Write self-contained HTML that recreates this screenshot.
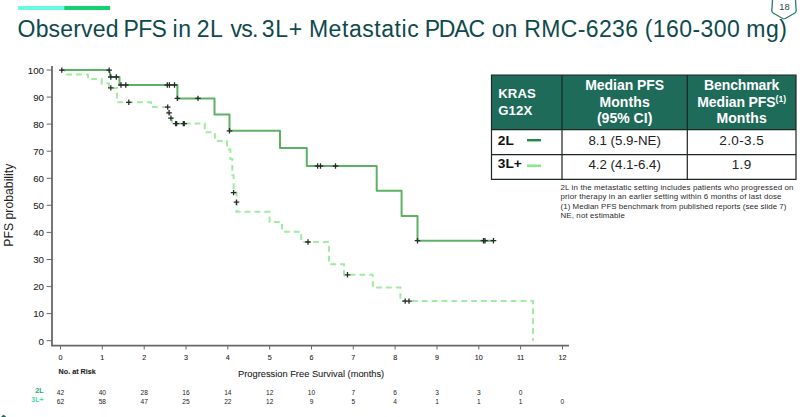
<!DOCTYPE html>
<html><head><meta charset="utf-8">
<style>
html,body{margin:0;padding:0;background:#fff;}
body{width:800px;height:417px;position:relative;overflow:hidden;font-family:"Liberation Sans",sans-serif;}
.a{position:absolute;white-space:nowrap;}
</style></head><body>
<svg width="800" height="417" viewBox="0 0 800 417" style="position:absolute;left:0;top:0">
<g stroke="#686868" fill="none">
<path d="M52 66 V345.6 H569" stroke-width="1.8"/>
<path d="M46.6 340.7 H52 M46.6 313.6 H52 M46.6 286.6 H52 M46.6 259.5 H52 M46.6 232.4 H52 M46.6 205.3 H52 M46.6 178.3 H52 M46.6 151.2 H52 M46.6 124.1 H52 M46.6 97.1 H52 M46.6 70.0 H52 M60.5 345.6 V349.5 M102.3 345.6 V349.5 M144.2 345.6 V349.5 M186.0 345.6 V349.5 M227.8 345.6 V349.5 M269.6 345.6 V349.5 M311.5 345.6 V349.5 M353.3 345.6 V349.5 M395.1 345.6 V349.5 M437.0 345.6 V349.5 M478.8 345.6 V349.5 M520.6 345.6 V349.5 M562.5 345.6 V349.5" stroke-width="1"/>
</g>
<path d="M65 70.1 V74.4 H88.1 V79.1 H101.7 V83.4 H109 V87.9 H116.9 V102.3 H151 V107.1 H167.7 V112.8 H169.5 V118.1 H172 V123.6 H204.8 V132.3 H214.9 V140.9 H227 V149.5 H230.4 V159 H232.3 V175.3 H233.6 V192.6 H236.5 V211.8 H269.6 V222 H282 V231.7 H301.2 V242 H329 V264.3 H344 V274.7 H372.9 V287.6 H400.4 V301.1 H533 V340.7" fill="none" stroke="#a0eca0" stroke-width="2" stroke-dasharray="5.8 4.07" stroke-dashoffset="4.37"/>
<path d="M61.5 70.1 H109.2 L110.6 77 H119.5 V85 H177.4 V98.4 H214.5 V114.5 H229.5 V130.8 H280 V148 H306.8 V166 H376.7 V190.8 H401.6 V216 H417.5 V240.7 H493.5" fill="none" stroke="#5cb264" stroke-width="2" stroke-linejoin="round"/>
<path stroke="#2a2a2a" stroke-width="1.3" fill="none" d="M59.0 70.1 H64.6 M61.8 67.4 V72.8 M106.4 70.1 H112.0 M109.2 67.4 V72.8 M108.0 77.0 H113.5 M110.8 74.3 V79.7 M113.5 77.0 H119.1 M116.3 74.3 V79.7 M118.2 85.0 H123.8 M121.0 82.3 V87.7 M123.0 85.0 H128.6 M125.8 82.3 V87.7 M164.5 85.0 H170.1 M167.3 82.3 V87.7 M166.6 85.0 H172.2 M169.4 82.3 V87.7 M171.7 85.0 H177.3 M174.5 82.3 V87.7 M174.6 98.4 H180.2 M177.4 95.7 V101.1 M195.2 98.4 H200.8 M198.0 95.7 V101.1 M226.7 130.8 H232.3 M229.5 128.1 V133.5 M314.8 166.0 H320.4 M317.6 163.3 V168.7 M317.7 166.0 H323.3 M320.5 163.3 V168.7 M332.7 166.0 H338.3 M335.5 163.3 V168.7 M414.7 240.7 H420.3 M417.5 238.0 V243.4 M480.7 240.7 H486.3 M483.5 238.0 V243.4 M482.2 240.7 H487.8 M485.0 238.0 V243.4 M490.7 240.7 H496.3 M493.5 238.0 V243.4 M108.0 87.9 H113.6 M110.8 85.2 V90.6 M126.0 102.3 H131.6 M128.8 99.6 V105.0 M164.9 107.1 H170.5 M167.7 104.4 V109.8 M166.3 112.8 H171.9 M169.1 110.1 V115.5 M168.1 118.1 H173.7 M170.9 115.4 V120.8 M172.8 123.6 H178.4 M175.6 120.9 V126.3 M173.8 123.6 H179.4 M176.6 120.9 V126.3 M180.5 123.6 H186.1 M183.3 120.9 V126.3 M181.5 123.6 H187.1 M184.3 120.9 V126.3 M230.8 192.6 H236.4 M233.6 189.9 V195.3 M233.7 202.2 H239.3 M236.5 199.5 V204.9 M305.2 242.0 H310.8 M308.0 239.3 V244.7 M344.7 274.8 H350.3 M347.5 272.1 V277.5 M402.4 301.1 H408.0 M405.2 298.4 V303.8 M406.2 301.1 H411.8 M409.0 298.4 V303.8"/>
<rect x="18" y="6" width="46.2" height="4" fill="#68fbe0"/>
<rect x="64.2" y="6" width="46" height="4" fill="#14d070"/>
<path d="M772.6 -1 L771.8 10.6 Q771.7 12.2 773.1 13 L782.7 18.5 Q784 19.2 785.3 18.5 L794.9 13 Q796.3 12.2 796.2 10.6 L795.4 -1" fill="none" stroke="#2a7a6a" stroke-width="1.3" stroke-linejoin="round"/>
<path d="M1.2 417 L1.9 415.9 L3.6 414.8 L5.4 415.9 L6.1 417 Z" fill="#1f6b5a"/>
<rect x="491.5" y="75" width="304.5" height="54.599999999999994" fill="#1e6b5a"/>
<path d="M491.5 75 H796 V179.3 H491.5 Z M562 75 V179.3 M687.3 75 V179.3 M491.5 129.6 H796 M491.5 154.6 H796" fill="none" stroke="#1c2624" stroke-width="1.2"/>
<rect x="527" y="139" width="14" height="2.4" fill="#1e8a4a"/>
<rect x="527" y="164.5" width="14" height="2.4" fill="#80e880"/>
</svg>
<div class="a" style="left:17.59px;top:15.73px;font-size:23px;line-height:27.6px;color:#0e4a4c;letter-spacing:0.172px;">Observed</div>
<div class="a" style="left:123.52px;top:15.73px;font-size:23px;line-height:27.6px;color:#0e4a4c;letter-spacing:-0.713px;">PFS</div>
<div class="a" style="left:172.58px;top:15.73px;font-size:23px;line-height:27.6px;color:#0e4a4c;letter-spacing:0.447px;">in</div>
<div class="a" style="left:196.72px;top:15.73px;font-size:23px;line-height:27.6px;color:#0e4a4c;letter-spacing:0.535px;">2L</div>
<div class="a" style="left:230.62px;top:15.73px;font-size:23px;line-height:27.6px;color:#0e4a4c;letter-spacing:-0.747px;">vs.</div>
<div class="a" style="left:261.86px;top:15.73px;font-size:23px;line-height:27.6px;color:#0e4a4c;letter-spacing:0.7px;">3L+</div>
<div class="a" style="left:308.90px;top:15.73px;font-size:23px;line-height:27.6px;color:#0e4a4c;letter-spacing:0.555px;">Metastatic</div>
<div class="a" style="left:424.70px;top:15.73px;font-size:23px;line-height:27.6px;color:#0e4a4c;letter-spacing:-1.157px;">PDAC</div>
<div class="a" style="left:491.87px;top:15.73px;font-size:23px;line-height:27.6px;color:#0e4a4c;letter-spacing:-0.135px;">on</div>
<div class="a" style="left:524.36px;top:15.73px;font-size:23px;line-height:27.6px;color:#0e4a4c;letter-spacing:0.343px;">RMC-6236</div>
<div class="a" style="left:644.63px;top:15.73px;font-size:23px;line-height:27.6px;color:#0e4a4c;letter-spacing:0.434px;">(160-300</div>
<div class="a" style="left:746.36px;top:15.73px;font-size:23px;line-height:27.6px;color:#0e4a4c;letter-spacing:0.423px;">mg)</div>
<div class="a" style="left:584.40px;width:400px;text-align:center;top:1.90px;font-size:9.3px;line-height:11.16px;color:#1a4a4c;">18</div>
<div class="a" style="left:-356.00px;width:400px;text-align:right;top:335.52px;font-size:9.7px;line-height:11.64px;color:#1a1a1a;-webkit-text-stroke:0.08px #1a1a1a;">0</div>
<div class="a" style="left:-356.00px;width:400px;text-align:right;top:308.45px;font-size:9.7px;line-height:11.64px;color:#1a1a1a;-webkit-text-stroke:0.08px #1a1a1a;">10</div>
<div class="a" style="left:-356.00px;width:400px;text-align:right;top:281.38px;font-size:9.7px;line-height:11.64px;color:#1a1a1a;-webkit-text-stroke:0.08px #1a1a1a;">20</div>
<div class="a" style="left:-356.00px;width:400px;text-align:right;top:254.31px;font-size:9.7px;line-height:11.64px;color:#1a1a1a;-webkit-text-stroke:0.08px #1a1a1a;">30</div>
<div class="a" style="left:-356.00px;width:400px;text-align:right;top:227.24px;font-size:9.7px;line-height:11.64px;color:#1a1a1a;-webkit-text-stroke:0.08px #1a1a1a;">40</div>
<div class="a" style="left:-356.00px;width:400px;text-align:right;top:200.17px;font-size:9.7px;line-height:11.64px;color:#1a1a1a;-webkit-text-stroke:0.08px #1a1a1a;">50</div>
<div class="a" style="left:-356.00px;width:400px;text-align:right;top:173.10px;font-size:9.7px;line-height:11.64px;color:#1a1a1a;-webkit-text-stroke:0.08px #1a1a1a;">60</div>
<div class="a" style="left:-356.00px;width:400px;text-align:right;top:146.03px;font-size:9.7px;line-height:11.64px;color:#1a1a1a;-webkit-text-stroke:0.08px #1a1a1a;">70</div>
<div class="a" style="left:-356.00px;width:400px;text-align:right;top:118.96px;font-size:9.7px;line-height:11.64px;color:#1a1a1a;-webkit-text-stroke:0.08px #1a1a1a;">80</div>
<div class="a" style="left:-356.00px;width:400px;text-align:right;top:91.89px;font-size:9.7px;line-height:11.64px;color:#1a1a1a;-webkit-text-stroke:0.08px #1a1a1a;">90</div>
<div class="a" style="left:-356.00px;width:400px;text-align:right;top:64.82px;font-size:9.7px;line-height:11.64px;color:#1a1a1a;-webkit-text-stroke:0.08px #1a1a1a;">100</div>
<div class="a" style="left:-139.50px;width:400px;text-align:center;top:353.69px;font-size:7.2px;line-height:8.64px;color:#1a1a1a;-webkit-text-stroke:0.08px #1a1a1a;">0</div>
<div class="a" style="left:-97.67px;width:400px;text-align:center;top:353.69px;font-size:7.2px;line-height:8.64px;color:#1a1a1a;-webkit-text-stroke:0.08px #1a1a1a;">1</div>
<div class="a" style="left:-55.84px;width:400px;text-align:center;top:353.69px;font-size:7.2px;line-height:8.64px;color:#1a1a1a;-webkit-text-stroke:0.08px #1a1a1a;">2</div>
<div class="a" style="left:-14.01px;width:400px;text-align:center;top:353.69px;font-size:7.2px;line-height:8.64px;color:#1a1a1a;-webkit-text-stroke:0.08px #1a1a1a;">3</div>
<div class="a" style="left:27.82px;width:400px;text-align:center;top:353.69px;font-size:7.2px;line-height:8.64px;color:#1a1a1a;-webkit-text-stroke:0.08px #1a1a1a;">4</div>
<div class="a" style="left:69.65px;width:400px;text-align:center;top:353.69px;font-size:7.2px;line-height:8.64px;color:#1a1a1a;-webkit-text-stroke:0.08px #1a1a1a;">5</div>
<div class="a" style="left:111.48px;width:400px;text-align:center;top:353.69px;font-size:7.2px;line-height:8.64px;color:#1a1a1a;-webkit-text-stroke:0.08px #1a1a1a;">6</div>
<div class="a" style="left:153.31px;width:400px;text-align:center;top:353.69px;font-size:7.2px;line-height:8.64px;color:#1a1a1a;-webkit-text-stroke:0.08px #1a1a1a;">7</div>
<div class="a" style="left:195.14px;width:400px;text-align:center;top:353.69px;font-size:7.2px;line-height:8.64px;color:#1a1a1a;-webkit-text-stroke:0.08px #1a1a1a;">8</div>
<div class="a" style="left:236.97px;width:400px;text-align:center;top:353.69px;font-size:7.2px;line-height:8.64px;color:#1a1a1a;-webkit-text-stroke:0.08px #1a1a1a;">9</div>
<div class="a" style="left:278.80px;width:400px;text-align:center;top:353.69px;font-size:7.2px;line-height:8.64px;color:#1a1a1a;-webkit-text-stroke:0.08px #1a1a1a;">10</div>
<div class="a" style="left:320.63px;width:400px;text-align:center;top:353.69px;font-size:7.2px;line-height:8.64px;color:#1a1a1a;-webkit-text-stroke:0.08px #1a1a1a;">11</div>
<div class="a" style="left:362.46px;width:400px;text-align:center;top:353.69px;font-size:7.2px;line-height:8.64px;color:#1a1a1a;-webkit-text-stroke:0.08px #1a1a1a;">12</div>
<div class="a" style="left:58.60px;top:367.69px;font-size:7.2px;line-height:8.64px;color:#1a1a1a;font-weight:bold;-webkit-text-stroke:0.08px #1a1a1a;">No. at Risk</div>
<div class="a" style="left:238.00px;top:368.60px;font-size:9.3px;line-height:11.16px;color:#1a1a1a;-webkit-text-stroke:0.08px #1a1a1a;">Progression Free Survival (months)</div>
<div class="a" style="left:-356.50px;width:400px;text-align:right;top:387.37px;font-size:7px;line-height:8.4px;color:#2aa86a;font-weight:bold;">2L</div>
<div class="a" style="left:-356.50px;width:400px;text-align:right;top:396.17px;font-size:7px;line-height:8.4px;color:#45dda0;font-weight:bold;">3L+</div>
<div class="a" style="left:-139.50px;width:400px;text-align:center;top:389.05px;font-size:6.6px;line-height:7.92px;color:#222;">42</div>
<div class="a" style="left:-97.67px;width:400px;text-align:center;top:389.05px;font-size:6.6px;line-height:7.92px;color:#222;">40</div>
<div class="a" style="left:-55.84px;width:400px;text-align:center;top:389.05px;font-size:6.6px;line-height:7.92px;color:#222;">28</div>
<div class="a" style="left:-14.01px;width:400px;text-align:center;top:389.05px;font-size:6.6px;line-height:7.92px;color:#222;">16</div>
<div class="a" style="left:27.82px;width:400px;text-align:center;top:389.05px;font-size:6.6px;line-height:7.92px;color:#222;">14</div>
<div class="a" style="left:69.65px;width:400px;text-align:center;top:389.05px;font-size:6.6px;line-height:7.92px;color:#222;">12</div>
<div class="a" style="left:111.48px;width:400px;text-align:center;top:389.05px;font-size:6.6px;line-height:7.92px;color:#222;">10</div>
<div class="a" style="left:153.31px;width:400px;text-align:center;top:389.05px;font-size:6.6px;line-height:7.92px;color:#222;">7</div>
<div class="a" style="left:195.14px;width:400px;text-align:center;top:389.05px;font-size:6.6px;line-height:7.92px;color:#222;">6</div>
<div class="a" style="left:236.97px;width:400px;text-align:center;top:389.05px;font-size:6.6px;line-height:7.92px;color:#222;">3</div>
<div class="a" style="left:278.80px;width:400px;text-align:center;top:389.05px;font-size:6.6px;line-height:7.92px;color:#222;">3</div>
<div class="a" style="left:320.63px;width:400px;text-align:center;top:389.05px;font-size:6.6px;line-height:7.92px;color:#222;">0</div>
<div class="a" style="left:-139.50px;width:400px;text-align:center;top:397.75px;font-size:6.6px;line-height:7.92px;color:#222;">62</div>
<div class="a" style="left:-97.67px;width:400px;text-align:center;top:397.75px;font-size:6.6px;line-height:7.92px;color:#222;">58</div>
<div class="a" style="left:-55.84px;width:400px;text-align:center;top:397.75px;font-size:6.6px;line-height:7.92px;color:#222;">47</div>
<div class="a" style="left:-14.01px;width:400px;text-align:center;top:397.75px;font-size:6.6px;line-height:7.92px;color:#222;">25</div>
<div class="a" style="left:27.82px;width:400px;text-align:center;top:397.75px;font-size:6.6px;line-height:7.92px;color:#222;">22</div>
<div class="a" style="left:69.65px;width:400px;text-align:center;top:397.75px;font-size:6.6px;line-height:7.92px;color:#222;">12</div>
<div class="a" style="left:111.48px;width:400px;text-align:center;top:397.75px;font-size:6.6px;line-height:7.92px;color:#222;">9</div>
<div class="a" style="left:153.31px;width:400px;text-align:center;top:397.75px;font-size:6.6px;line-height:7.92px;color:#222;">5</div>
<div class="a" style="left:195.14px;width:400px;text-align:center;top:397.75px;font-size:6.6px;line-height:7.92px;color:#222;">4</div>
<div class="a" style="left:236.97px;width:400px;text-align:center;top:397.75px;font-size:6.6px;line-height:7.92px;color:#222;">1</div>
<div class="a" style="left:278.80px;width:400px;text-align:center;top:397.75px;font-size:6.6px;line-height:7.92px;color:#222;">1</div>
<div class="a" style="left:320.63px;width:400px;text-align:center;top:397.75px;font-size:6.6px;line-height:7.92px;color:#222;">1</div>
<div class="a" style="left:362.46px;width:400px;text-align:center;top:397.75px;font-size:6.6px;line-height:7.92px;color:#222;">0</div>
<div class="a" style="left:-51.4px;top:198.0px;width:120px;height:14.4px;line-height:14.4px;text-align:center;font-size:12.25px;color:#222;transform:rotate(-90deg);">PFS probability</div>
<div class="a" style="left:498.20px;top:85.51px;font-size:13.2px;line-height:15.84px;color:#fff;font-weight:bold;letter-spacing:0.1px;">KRAS</div>
<div class="a" style="left:498.20px;top:103.31px;font-size:13.2px;line-height:15.84px;color:#fff;font-weight:bold;letter-spacing:0.1px;">G12X</div>
<div class="a" style="left:424.65px;width:400px;text-align:center;top:76.95px;font-size:14px;line-height:16.8px;color:#fff;font-weight:bold;letter-spacing:-0.05px;">Median PFS</div>
<div class="a" style="left:424.65px;width:400px;text-align:center;top:93.95px;font-size:14px;line-height:16.8px;color:#fff;font-weight:bold;letter-spacing:0.1px;">Months</div>
<div class="a" style="left:424.65px;width:400px;text-align:center;top:110.25px;font-size:14px;line-height:16.8px;color:#fff;font-weight:bold;letter-spacing:0.02px;">(95% CI)</div>
<div class="a" style="left:541.65px;width:400px;text-align:center;top:77.25px;font-size:14px;line-height:16.8px;color:#fff;font-weight:bold;letter-spacing:-0.12px;">Benchmark</div>
<div class="a" style="left:541.65px;width:400px;text-align:center;top:94.25px;font-size:14px;line-height:16.8px;color:#fff;font-weight:bold;letter-spacing:-0.1px;">Median PFS<span style="font-size:8.6px;position:relative;top:-5.3px;letter-spacing:0">(1)</span></div>
<div class="a" style="left:541.65px;width:400px;text-align:center;top:110.25px;font-size:14px;line-height:16.8px;color:#fff;font-weight:bold;letter-spacing:0.1px;">Months</div>
<div class="a" style="left:497.80px;top:132.63px;font-size:13.7px;line-height:16.44px;color:#111;font-weight:bold;">2L</div>
<div class="a" style="left:497.80px;top:156.43px;font-size:13.7px;line-height:16.44px;color:#111;font-weight:bold;">3L+</div>
<div class="a" style="left:424.65px;width:400px;text-align:center;top:132.81px;font-size:13.3px;line-height:15.96px;color:#222;">8.1 (5.9-NE)</div>
<div class="a" style="left:541.65px;width:400px;text-align:center;top:132.62px;font-size:13.5px;line-height:16.2px;color:#222;letter-spacing:0.4px;">2.0-3.5</div>
<div class="a" style="left:424.65px;width:400px;text-align:center;top:156.71px;font-size:13.3px;line-height:15.96px;color:#222;">4.2 (4.1-6.4)</div>
<div class="a" style="left:541.65px;width:400px;text-align:center;top:156.52px;font-size:13.5px;line-height:16.2px;color:#222;letter-spacing:0.4px;">1.9</div>
<div class="a" style="left:560.50px;top:183.32px;font-size:7.9px;line-height:9.48px;color:#2a2a2a;letter-spacing:0.145px;">2L in the metastatic setting includes patients who progressed on</div>
<div class="a" style="left:560.50px;top:192.42px;font-size:7.9px;line-height:9.48px;color:#2a2a2a;letter-spacing:0.13px;">prior therapy in an earlier setting within 6 months of last dose</div>
<div class="a" style="left:560.50px;top:201.52px;font-size:7.9px;line-height:9.48px;color:#2a2a2a;letter-spacing:0.06px;">(1) Median PFS benchmark from published reports (see slide 7)</div>
<div class="a" style="left:560.50px;top:210.62px;font-size:7.9px;line-height:9.48px;color:#2a2a2a;letter-spacing:0.13px;">NE, not estimable</div>
</body></html>
